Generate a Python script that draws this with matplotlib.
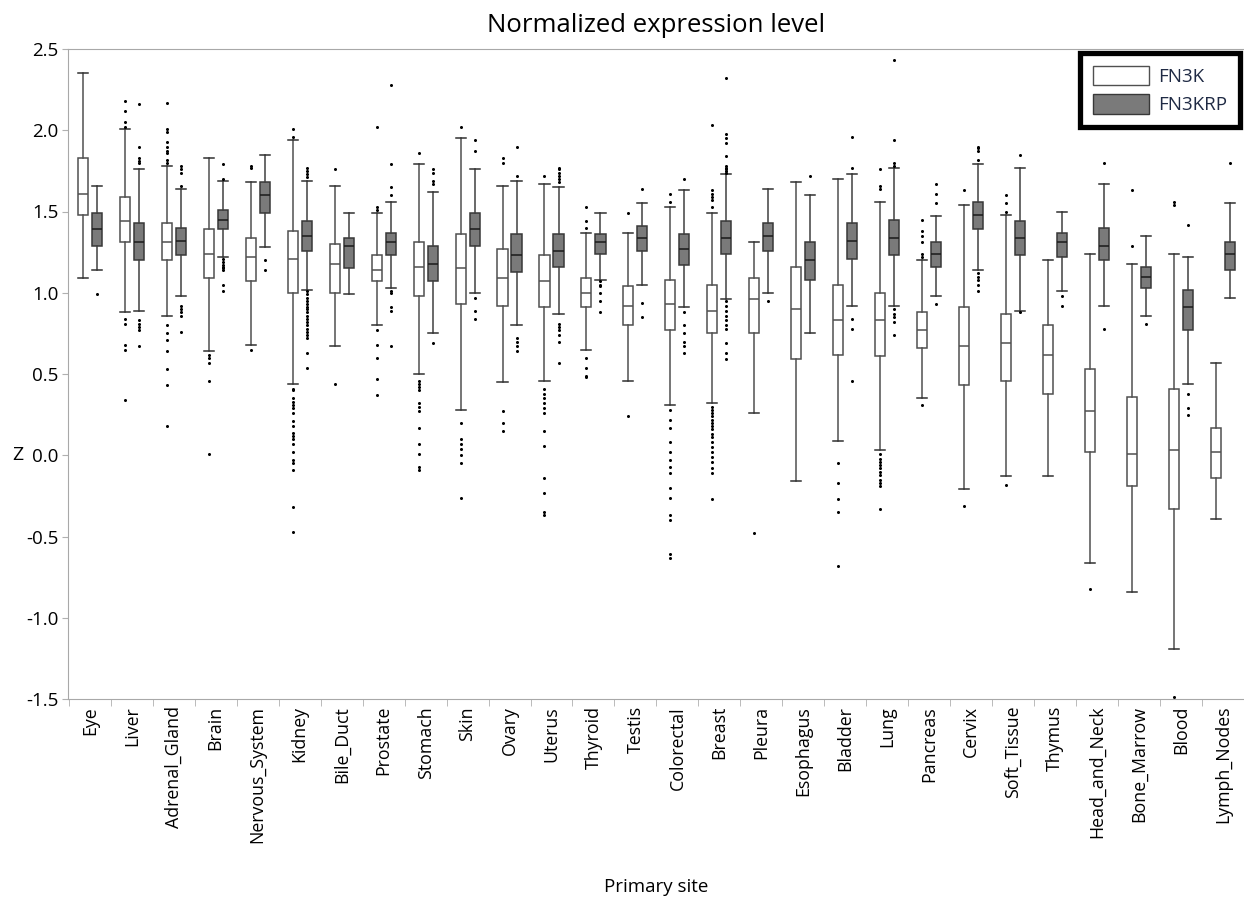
import matplotlib

matplotlib.use("Agg")
import matplotlib.pyplot as plt
from matplotlib.patches import Patch
import numpy as np

plt.rcParams["font.family"] = ["Open Sans", "DejaVu Sans"]
plt.rcParams["axes.unicode_minus"] = False

SITES = ["Eye", "Liver", "Adrenal_Gland", "Brain", "Nervous_System", "Kidney",
         "Bile_Duct", "Prostate", "Stomach", "Skin", "Ovary", "Uterus",
         "Thyroid", "Testis", "Colorectal", "Breast", "Pleura", "Esophagus",
         "Bladder", "Lung", "Pancreas", "Cervix", "Soft_Tissue", "Thymus",
         "Head_and_Neck", "Bone_Marrow", "Blood", "Lymph_Nodes"]

# FN3K box statistics
fn3k_lo = [1.09, 0.88, 0.86, 0.64, 0.68, 0.44, 0.67, 0.80, 0.50, 0.28, 0.45, 0.46,
           0.65, 0.46, 0.31, 0.32, 0.26, -0.16, 0.09, 0.03, 0.35, -0.21, -0.13,
           -0.13, -0.66, -0.84, -1.19, -0.39]
fn3k_q1 = [1.48, 1.31, 1.20, 1.09, 1.07, 1.00, 1.00, 1.07, 0.98, 0.93, 0.92, 0.91,
           0.91, 0.80, 0.77, 0.75, 0.75, 0.59, 0.62, 0.61, 0.66, 0.43, 0.46, 0.38,
           0.02, -0.19, -0.33, -0.14]
fn3k_med = [1.61, 1.44, 1.31, 1.24, 1.22, 1.21, 1.18, 1.14, 1.16, 1.15, 1.09, 1.07,
            1.00, 0.92, 0.93, 0.89, 0.96, 0.90, 0.83, 0.83, 0.77, 0.67, 0.69, 0.62,
            0.27, 0.01, 0.03, 0.02]
fn3k_q3 = [1.83, 1.59, 1.43, 1.39, 1.34, 1.38, 1.30, 1.23, 1.31, 1.36, 1.27, 1.23,
           1.09, 1.04, 1.08, 1.05, 1.09, 1.16, 1.05, 1.00, 0.88, 0.91, 0.87, 0.80,
           0.53, 0.36, 0.41, 0.17]
fn3k_hi = [2.35, 2.01, 1.78, 1.83, 1.68, 1.94, 1.66, 1.49, 1.79, 1.95, 1.66, 1.67,
           1.37, 1.37, 1.53, 1.49, 1.31, 1.68, 1.70, 1.56, 1.20, 1.54, 1.48, 1.20,
           1.24, 1.18, 1.24, 0.57]
fn3k_out = [
    [],
    [2.18, 2.12, 2.05, 2.02, 0.84, 0.81, 0.68, 0.65, 0.34],
    [2.17, 2.01, 1.99, 1.93, 1.90, 1.87, 1.86, 1.82, 1.80, 0.80, 0.75, 0.71,
     0.64, 0.53, 0.43, 0.18],
    [0.62, 0.60, 0.57, 0.46, 0.01],
    [1.78, 1.77, 0.65],
    [2.01, 1.96, 0.41, 0.40, 0.35, 0.33, 0.31, 0.29, 0.26, 0.21, 0.18, 0.14,
     0.12, 0.10, 0.07, 0.02, -0.03, -0.05, -0.09, -0.32, -0.47],
    [1.76, 0.44],
    [2.02, 1.53, 1.51, 0.77, 0.68, 0.60, 0.47, 0.37],
    [1.86, 0.46, 0.44, 0.42, 0.40, 0.32, 0.30, 0.27, 0.17, 0.07, 0.01, -0.07, -0.09],
    [2.02, 0.20, 0.10, 0.07, 0.04, 0.00, -0.05, -0.26],
    [1.83, 1.80, 0.27, 0.20, 0.15],
    [1.72, 0.41, 0.38, 0.35, 0.32, 0.29, 0.26, 0.15, 0.06, -0.14, -0.23, -0.35, -0.37],
    [1.53, 1.44, 1.40, 0.60, 0.54, 0.49, 0.48],
    [1.49, 0.24],
    [1.61, 1.56, 0.28, 0.22, 0.17, 0.08, 0.02, -0.03, -0.07, -0.11, -0.20, -0.26,
     -0.37, -0.40, -0.61, -0.63],
    [2.03, 1.63, 1.61, 1.59, 1.57, 1.53, 0.30, 0.28, 0.26, 0.24, 0.22, 0.20, 0.18,
     0.16, 0.13, 0.11, 0.08, 0.05, 0.02, -0.01, -0.04, -0.08, -0.11, -0.27],
    [-0.48],
    [],
    [-0.05, -0.17, -0.27, -0.35, -0.68],
    [1.76, 1.66, 1.64, 0.01, -0.02, -0.04, -0.06, -0.08, -0.10, -0.12, -0.15,
     -0.17, -0.19, -0.33],
    [1.45, 1.38, 1.35, 1.31, 1.24, 1.22, 0.31],
    [1.63, -0.31],
    [1.60, 1.55, 1.50, -0.18],
    [],
    [-0.82],
    [1.63, 1.29],
    [1.56, 1.54, -1.49],
    [],
]

# FN3KRP box statistics
krp_lo = [1.14, 0.89, 0.98, 1.22, 1.28, 1.02, 0.99, 1.03, 0.75, 1.00, 0.80, 0.87,
          1.08, 1.05, 0.91, 0.96, 1.00, 0.75, 0.92, 0.92, 0.98, 1.14, 0.89, 1.01,
          0.92, 0.86, 0.44, 0.97]
krp_q1 = [1.29, 1.20, 1.23, 1.39, 1.49, 1.26, 1.15, 1.23, 1.07, 1.29, 1.13, 1.16,
          1.24, 1.26, 1.17, 1.24, 1.26, 1.08, 1.21, 1.23, 1.16, 1.39, 1.23, 1.22,
          1.20, 1.03, 0.77, 1.14]
krp_med = [1.39, 1.31, 1.32, 1.45, 1.60, 1.35, 1.29, 1.31, 1.18, 1.39, 1.23, 1.26,
           1.31, 1.34, 1.27, 1.34, 1.35, 1.20, 1.32, 1.34, 1.24, 1.48, 1.34, 1.31,
           1.29, 1.10, 0.91, 1.24]
krp_q3 = [1.49, 1.43, 1.40, 1.51, 1.68, 1.44, 1.34, 1.37, 1.29, 1.49, 1.36, 1.36,
          1.36, 1.41, 1.36, 1.44, 1.43, 1.31, 1.43, 1.45, 1.31, 1.56, 1.44, 1.37,
          1.40, 1.16, 1.02, 1.31]
krp_hi = [1.66, 1.76, 1.64, 1.69, 1.85, 1.69, 1.49, 1.56, 1.62, 1.76, 1.69, 1.65,
          1.49, 1.55, 1.63, 1.73, 1.64, 1.60, 1.73, 1.77, 1.47, 1.79, 1.77, 1.50,
          1.67, 1.35, 1.22, 1.55]
krp_out = [
    [0.99],
    [2.16, 1.90, 1.83, 1.81, 1.80, 0.83, 0.81, 0.79, 0.77, 0.67],
    [1.78, 1.76, 1.74, 1.66, 0.92, 0.90, 0.88, 0.86, 0.76],
    [1.79, 1.70, 1.21, 1.19, 1.17, 1.16, 1.15, 1.14, 1.05, 1.01],
    [1.20, 1.14],
    [1.77, 1.75, 1.73, 1.71, 1.01, 0.99, 0.97, 0.95, 0.93, 0.91, 0.90, 0.88,
     0.86, 0.84, 0.82, 0.80, 0.78, 0.76, 0.74, 0.72, 0.63, 0.54],
    [],
    [2.28, 1.79, 1.65, 1.60, 1.01, 1.00, 0.91, 0.89, 0.67],
    [1.76, 1.74, 1.69, 1.67, 0.69],
    [1.94, 1.87, 0.97, 0.89, 0.84],
    [1.90, 1.72, 0.72, 0.70, 0.67, 0.64],
    [1.77, 1.76, 1.74, 1.72, 1.70, 1.68, 0.81, 0.79, 0.77, 0.74, 0.70, 0.57],
    [1.07, 1.05, 1.04, 1.00, 0.95, 0.88],
    [1.64, 0.94, 0.85],
    [1.70, 0.88, 0.80, 0.75, 0.70, 0.67, 0.63],
    [2.32, 1.98, 1.95, 1.92, 1.84, 1.78, 1.77, 1.76, 1.75, 1.74, 0.95, 0.92,
     0.89, 0.86, 0.83, 0.80, 0.78, 0.69, 0.63, 0.59],
    [0.95],
    [1.72],
    [1.96, 1.77, 0.84, 0.78, 0.46],
    [2.43, 1.94, 1.80, 1.78, 0.90, 0.87, 0.85, 0.82, 0.74],
    [1.67, 1.61, 1.55, 0.93],
    [1.90, 1.89, 1.87, 1.82, 1.12, 1.10, 1.08, 1.05, 1.01],
    [1.85, 0.88],
    [0.98, 0.92],
    [1.80, 0.78],
    [0.81],
    [1.42, 0.38, 0.29, 0.25],
    [1.80],
]

Y_TICKS = [-1.5, -1.0, -0.5, 0.0, 0.5, 1.0, 1.5, 2.0, 2.5]


def box_stats(lo, q1, med, q3, hi, out):
    return [dict(whislo=a, q1=b, med=c, q3=d, whishi=e, fliers=f)
            for a, b, c, d, e, f in zip(lo, q1, med, q3, hi, out)]


fig = plt.figure(figsize=(12.44, 8.98), dpi=100)
ax = fig.add_axes([68 / 1244, 1 - 699 / 898, 1 - 68 / 1244, 650 / 898])

x = np.arange(len(SITES))
w = 0.24
flier = dict(marker="o", markersize=2.2, markerfacecolor="black",
             markeredgecolor="black", markeredgewidth=0, linestyle="none")

ax.bxp(box_stats(fn3k_lo, fn3k_q1, fn3k_med, fn3k_q3, fn3k_hi, fn3k_out),
       positions=x - 0.167, widths=w, capwidths=w, patch_artist=True,
       boxprops=dict(facecolor="white", edgecolor="#505050", linewidth=1.1),
       medianprops=dict(color="#505050", linewidth=1.1),
       whiskerprops=dict(color="#505050", linewidth=1.1),
       capprops=dict(color="#303030", linewidth=1.1),
       flierprops=flier, manage_ticks=False)
ax.bxp(box_stats(krp_lo, krp_q1, krp_med, krp_q3, krp_hi, krp_out),
       positions=x + 0.167, widths=w, capwidths=w, patch_artist=True,
       boxprops=dict(facecolor="#7a7a7a", edgecolor="#383838", linewidth=1.1),
       medianprops=dict(color="#1a1a1a", linewidth=1.1),
       whiskerprops=dict(color="#404040", linewidth=1.1),
       capprops=dict(color="#303030", linewidth=1.1),
       flierprops=flier, manage_ticks=False)

ax.set_xlim(-0.52, len(SITES) - 0.5)
ax.set_ylim(-1.5, 2.5)

ax.set_xticks(x)
ax.set_xticklabels(SITES, rotation=90, fontsize=12.8)
ax.tick_params(axis="x", which="major", length=0, pad=5)
ax.set_xticks(np.arange(len(SITES) + 1) - 0.5, minor=True)
ax.tick_params(axis="x", which="minor", length=5, color="#b0b0b0")

ax.set_yticks(Y_TICKS)
ax.set_yticklabels([f"{v:.1f}" for v in Y_TICKS], fontsize=13.5)
ax.tick_params(axis="y", length=4, color="#b0b0b0", pad=3)

for side in ("left", "top", "bottom"):
    ax.spines[side].set_color("#a8a8a8")
ax.spines["right"].set_visible(False)

ax.set_xlabel("Primary site", fontsize=13.5, labelpad=25)
ax.set_ylabel("Z", fontsize=14, rotation=0, ha="center", va="center")
ax.yaxis.set_label_coords(-0.0425, 0.375)
ax.set_title("Normalized expression level", fontsize=18.5, pad=12)

handles = [Patch(facecolor="white", edgecolor="#505050", label="FN3K"),
           Patch(facecolor="#7a7a7a", edgecolor="#383838", label="FN3KRP")]
leg = ax.legend(handles=handles, loc="upper right", bbox_to_anchor=(0.997, 0.994),
                borderaxespad=0, fontsize=13.5, handlelength=3.0, handleheight=1.2,
                fancybox=False, framealpha=1, labelspacing=0.45,
                handletextpad=0.5, borderpad=0.7)
leg.get_frame().set_edgecolor("black")
leg.get_frame().set_linewidth(3.8)
for t in leg.get_texts():
    t.set_color("#1f2a44")

fig.savefig("out.png", dpi=100)
